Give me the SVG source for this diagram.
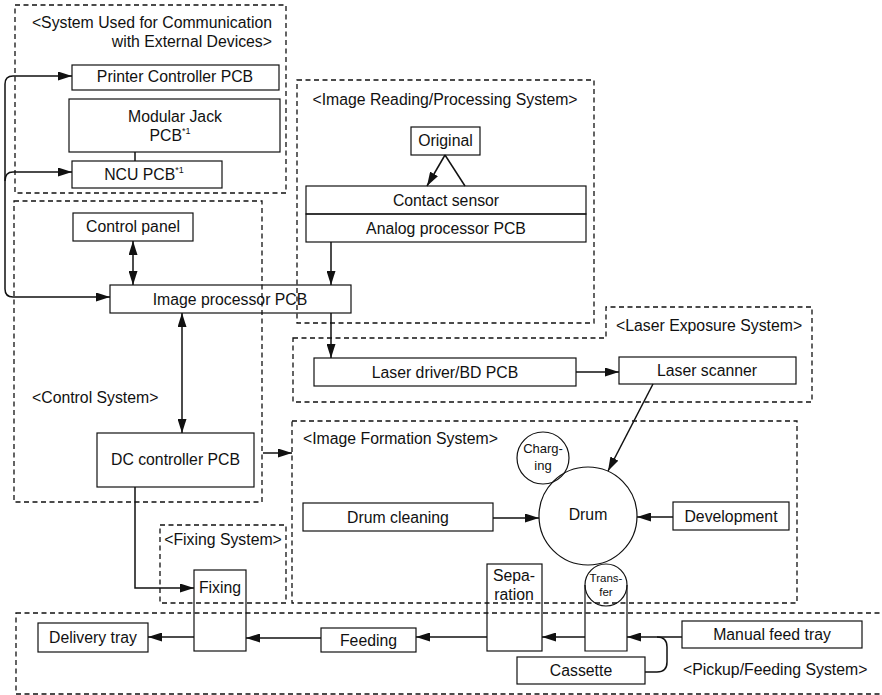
<svg xmlns="http://www.w3.org/2000/svg" width="882" height="695" viewBox="0 0 882 695">
<style>
text{font-family:"Liberation Sans",Arial,sans-serif;font-size:15.8px;fill:#111;text-anchor:middle}
.t{text-anchor:start}
.e{text-anchor:end}
.sm{font-size:13px}
.xs{font-size:11.5px}
.sup{font-size:9px}
.b{fill:none;stroke:#111;stroke-width:1.2}
.d{fill:none;stroke:#111;stroke-width:1.3;stroke-dasharray:5,3.5}
.c{fill:none;stroke:#111;stroke-width:1.5}
</style>
<defs>
<marker id="a" markerWidth="14" markerHeight="9" refX="14" refY="4.5" orient="auto-start-reverse" markerUnits="userSpaceOnUse">
<path d="M0,0 L14,4.5 L0,9 z" fill="#111"/>
</marker>
</defs>

<g id="systems">
<rect class="d" x="15" y="5" width="271" height="188"/>
<rect class="d" x="14" y="201" width="248" height="301"/>
<rect class="d" x="297" y="80" width="297" height="243"/>
<polygon class="d" points="293,338 606,338 606,307 812,307 812,402 293,402"/>
<rect class="d" x="292" y="421" width="505" height="182"/>
<rect class="d" x="160" y="525" width="126" height="78"/>
<rect class="d" x="16" y="613" width="880" height="81"/>
<text class="e" x="272" y="28">&lt;System Used for Communication</text>
<text class="e" x="272" y="47">with External Devices&gt;</text>
<text x="445" y="105">&lt;Image Reading/Processing System&gt;</text>
<text class="t" x="32" y="403">&lt;Control System&gt;</text>
<text class="t" x="616" y="331">&lt;Laser Exposure System&gt;</text>
<text class="t" x="303" y="444">&lt;Image Formation System&gt;</text>
<text x="223" y="545">&lt;Fixing System&gt;</text>
<text class="t" x="683" y="675">&lt;Pickup/Feeding System&gt;</text>
</g>

<g id="printer-controller"><rect class="b" x="72" y="65" width="207" height="25"/><text x="175" y="82">Printer Controller PCB</text></g>
<g id="modular-jack"><rect class="b" x="69" y="99" width="211" height="53"/><text x="175" y="122">Modular Jack</text><text x="170" y="141">PCB<tspan class="sup" dy="-7">*1</tspan></text></g>
<g id="ncu"><rect class="b" x="72" y="161" width="150" height="27"/><text x="144" y="180">NCU PCB<tspan class="sup" dy="-7">*1</tspan></text></g>
<g id="control-panel"><rect class="b" x="73" y="213" width="120" height="28"/><text x="133" y="232">Control panel</text></g>
<g id="image-processor"><rect class="b" x="110" y="285" width="241" height="28"/><text x="230" y="305">Image processor PCB</text></g>
<g id="dc-controller"><rect class="b" x="97" y="433" width="157" height="54"/><text x="175.5" y="465">DC controller PCB</text></g>
<g id="original"><rect class="b" x="411" y="127" width="69" height="28"/><text x="445.5" y="146">Original</text></g>
<g id="contact-sensor"><rect class="b" x="306" y="186" width="280" height="28"/><text x="446" y="206">Contact sensor</text></g>
<g id="analog-processor"><rect class="b" x="306" y="214" width="280" height="28"/><text x="446" y="234">Analog processor PCB</text></g>
<g id="laser-driver"><rect class="b" x="314" y="358" width="262" height="28"/><text x="445" y="378">Laser driver/BD PCB</text></g>
<g id="laser-scanner"><rect class="b" x="619" y="357" width="177" height="27"/><text x="707" y="376">Laser scanner</text></g>
<g id="charging"><circle class="b" cx="543" cy="458" r="26"/><text class="sm" x="543" y="453">Charg-</text><text class="sm" x="543" y="470">ing</text></g>
<g id="drum"><circle class="b" cx="588" cy="516" r="49"/><text x="588" y="520">Drum</text></g>
<g id="drum-cleaning"><rect class="b" x="303" y="503" width="190" height="28"/><text x="398" y="523">Drum cleaning</text></g>
<g id="development"><rect class="b" x="673" y="502" width="116" height="28"/><text x="731" y="522">Development</text></g>
<g id="transfer"><path class="b" d="M585,585 V651 H627 V585"/><circle class="b" cx="606" cy="585" r="21"/><text class="xs" x="606" y="582">Trans-</text><text class="xs" x="606" y="596">fer</text></g>
<g id="separation"><rect class="b" x="487" y="564" width="55" height="87"/><text x="514" y="581">Sepa-</text><text x="514" y="600">ration</text></g>
<g id="fixing"><rect class="b" x="194" y="570" width="52" height="81"/><text x="220" y="593">Fixing</text></g>
<g id="delivery-tray"><rect class="b" x="38" y="623" width="110" height="29"/><text x="93" y="643">Delivery tray</text></g>
<g id="feeding"><rect class="b" x="321" y="628" width="95" height="24"/><text x="368.5" y="646">Feeding</text></g>
<g id="manual-feed-tray"><rect class="b" x="682" y="621" width="180" height="27"/><text x="772" y="640">Manual feed tray</text></g>
<g id="cassette"><rect class="b" x="517" y="657" width="128" height="27"/><text x="581" y="676">Cassette</text></g>

<g id="connectors">
<path class="c" d="M110,297 H13 Q5,297 5,289 V84 Q5,76 13,76 H72" marker-start="url(#a)" marker-end="url(#a)"/>
<path class="c" d="M5,181 Q5,172 13,172 H72" marker-end="url(#a)"/>
<line class="c" x1="135" y1="152" x2="135" y2="161"/>
<line class="c" x1="133" y1="241" x2="133" y2="285" marker-start="url(#a)" marker-end="url(#a)"/>
<line class="c" x1="182" y1="313" x2="182" y2="433" marker-start="url(#a)" marker-end="url(#a)"/>
<line class="c" x1="445" y1="155" x2="427" y2="186" marker-end="url(#a)"/>
<line class="c" x1="445" y1="155" x2="465" y2="186"/>
<line class="c" x1="331" y1="242" x2="331" y2="285" marker-end="url(#a)"/>
<line class="c" x1="331" y1="313" x2="331" y2="358" marker-end="url(#a)"/>
<line class="c" x1="576" y1="372" x2="619" y2="372" marker-end="url(#a)"/>
<line class="c" x1="653" y1="384" x2="608" y2="471" marker-end="url(#a)"/>
<line class="c" x1="263" y1="453" x2="292" y2="453" marker-end="url(#a)"/>
<path class="c" d="M135,487 V588 H194" marker-end="url(#a)"/>
<line class="c" x1="493" y1="518" x2="539" y2="518" marker-end="url(#a)"/>
<line class="c" x1="673" y1="517" x2="637" y2="517" marker-end="url(#a)"/>
<line class="c" x1="194" y1="637" x2="148" y2="637" marker-end="url(#a)"/>
<line class="c" x1="321" y1="638" x2="246" y2="638" marker-end="url(#a)"/>
<line class="c" x1="487" y1="637" x2="416" y2="637" marker-end="url(#a)"/>
<line class="c" x1="585" y1="637" x2="542" y2="637" marker-end="url(#a)"/>
<line class="c" x1="682" y1="637" x2="627" y2="637" marker-end="url(#a)"/>
<path class="c" d="M645,672 H657 Q667,672 667,662 V647 Q667,637 657,637"/>
</g>
</svg>
